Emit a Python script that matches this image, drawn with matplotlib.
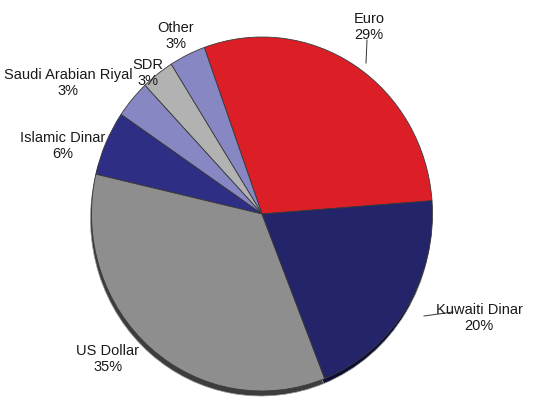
import matplotlib
matplotlib.use("Agg")
import matplotlib.pyplot as plt
from matplotlib.lines import Line2D

# Currency composition, listed counter-clockwise starting from the Euro wedge
currencies = ["Euro", "Other", "SDR", "Saudi Arabian Riyal", "Islamic Dinar",
              "US Dollar", "Kuwaiti Dinar"]
shares = [29.3, 3.45, 3.1, 3.45, 5.9, 34.6, 20.2]
colors = ["#DC1F27", "#8787C3", "#B2B2B2", "#8787C3", "#2E2E84", "#8E8E8E", "#24246A"]
depth_colors = ["#6e1014", "#43436a", "#555555", "#43436a", "#15153f", "#3d3d3d", "#0b0b33"]

W, H = 541, 402
fig = plt.figure(figsize=(W / 100, H / 100), dpi=100)
ax = fig.add_axes([0, 0, 1, 1])

# pie geometry in pixels (y measured downward from top)
cx, cy, rx, ry = 262.0, 215.0, 170.5, 177.0
start = 4.3
depth_dx, depth_dy = -1.0, 5.0

total = sum(shares)
pcts = [s / total * 100 for s in shares]

# 3D rim: same pie shifted down, in darker shades
ax.pie(shares, colors=depth_colors, startangle=start, counterclock=True,
       center=(depth_dx / rx, -depth_dy / ry), radius=1.0,
       wedgeprops=dict(edgecolor="#9a9a9a", linewidth=0.5))
# top face
ax.pie(shares, colors=colors, startangle=start, counterclock=True,
       center=(0, 0), radius=1.0,
       wedgeprops=dict(edgecolor="#3a3a3a", linewidth=0.6))

ax.set_aspect("auto")
ax.set_xlim(-cx / rx, (W - cx) / rx)
ax.set_ylim(-(H - cy) / ry, cy / ry)
ax.axis("off")

# label placement (pixel centres of each two-line label)
label_pos = {
    "Euro": (369, 27),
    "Other": (176, 36),
    "SDR": (148, 73),
    "Saudi Arabian Riyal": (68, 83),
    "Islamic Dinar": (63, 146),
    "US Dollar": (108, 359),
    "Kuwaiti Dinar": (479, 318),
}
for name, p in zip(currencies, pcts):
    x, y = label_pos[name]
    fig.text(x / W, 1 - y / H, f"{name}\n{round(p):d}%", ha="center", va="center",
             fontsize=10.5, family=["Liberation Sans", "DejaVu Sans"],
             color="#1a1a1a", linespacing=1.15)

# leader lines
for (x0, y0), (x1, y1) in [((367, 41), (366, 64)), ((453, 313), (424, 317))]:
    fig.add_artist(Line2D([x0 / W, x1 / W], [1 - y0 / H, 1 - y1 / H],
                          transform=fig.transFigure, color="#333333", linewidth=0.7))

fig.savefig("out.png", dpi=100)
